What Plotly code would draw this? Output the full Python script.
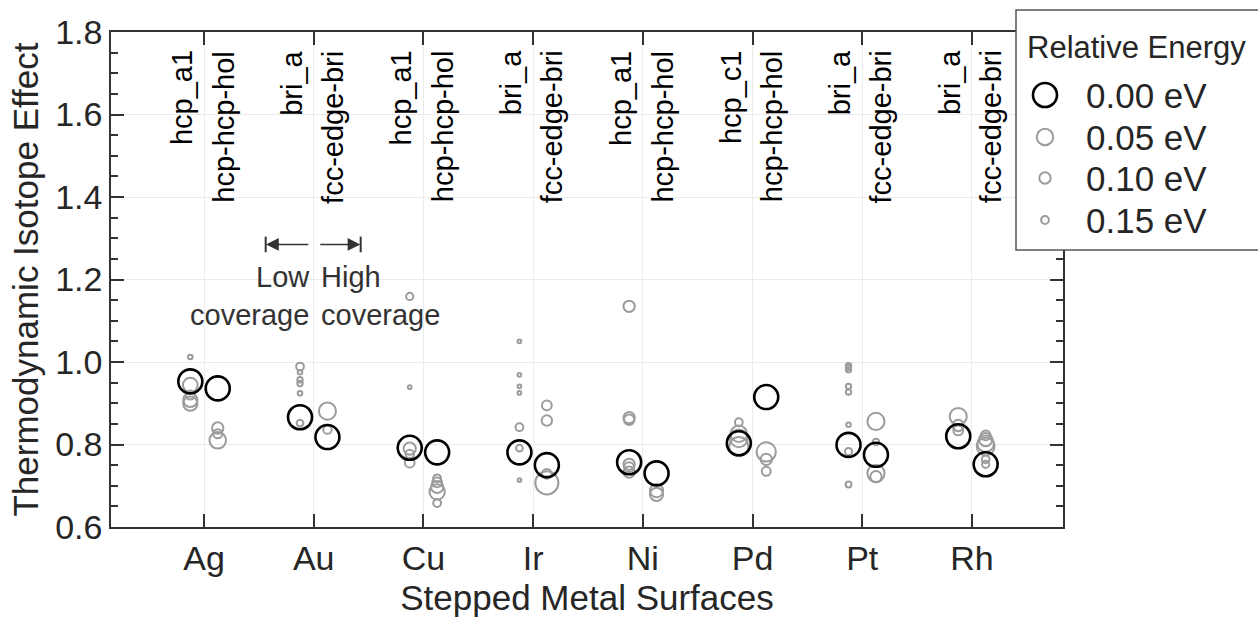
import numpy as np
import plotly.graph_objects as go

# ---------------- data ----------------
metals = ["Ag", "Au", "Cu", "Ir", "Ni", "Pd", "Pt", "Rh"]
low_sites = ["hcp_a1", "bri_a", "hcp_a1", "bri_a", "hcp_a1", "hcp_c1", "bri_a", "bri_a"]
high_sites = ["hcp-hcp-hol", "fcc-edge-bri", "hcp-hcp-hol", "fcc-edge-bri",
              "hcp-hcp-hol", "hcp-hcp-hol", "fcc-edge-bri", "fcc-edge-bri"]

# thermodynamic isotope effect (tie) and relative energy (de, eV) of each configuration
ag_low_tie = [1.012, 0.953, 0.944, 0.920, 0.908, 0.899]
ag_low_de = [0.22, 0.00, 0.065, 0.13, 0.07, 0.07]
ag_high_tie = [0.936, 0.840, 0.826, 0.810]
ag_high_de = [0.00, 0.10, 0.13, 0.05]

au_low_tie = [0.989, 0.975, 0.957, 0.948, 0.924, 0.866, 0.852]
au_low_de = [0.15, 0.22, 0.20, 0.20, 0.22, 0.00, 0.17]
au_high_tie = [0.881, 0.836, 0.818]
au_high_de = [0.045, 0.14, 0.00]

cu_low_tie = [1.159, 0.939, 0.792, 0.790, 0.777, 0.756]
cu_low_de = [0.16, 0.25, 0.00, 0.09, 0.14, 0.12]
cu_high_tie = [0.781, 0.718, 0.708, 0.697, 0.685, 0.658]
cu_high_de = [0.00, 0.15, 0.12, 0.09, 0.06, 0.15]

ir_low_tie = [1.050, 0.969, 0.941, 0.925, 0.842, 0.791, 0.781, 0.714]
ir_low_de = [0.25, 0.25, 0.25, 0.25, 0.15, 0.17, 0.00, 0.25]
ir_high_tie = [0.895, 0.858, 0.750, 0.729, 0.707]
ir_high_de = [0.12, 0.11, 0.00, 0.12, 0.005]

ni_low_tie = [1.135, 0.865, 0.860, 0.757, 0.752, 0.745, 0.733]
ni_low_de = [0.10, 0.10, 0.11, 0.00, 0.10, 0.12, 0.10]
ni_high_tie = [0.730, 0.688, 0.679]
ni_high_de = [0.00, 0.08, 0.08]

pd_low_tie = [0.854, 0.826, 0.815, 0.803, 0.795]
pd_low_de = [0.15, 0.05, 0.04, 0.00, 0.03]
pd_high_tie = [0.915, 0.782, 0.764, 0.735]
pd_high_de = [0.00, 0.03, 0.10, 0.13]

pt_low_tie = [0.991, 0.987, 0.981, 0.941, 0.927, 0.848, 0.799, 0.783, 0.703]
pt_low_de = [0.20, 0.20, 0.20, 0.20, 0.20, 0.22, 0.00, 0.16, 0.19]
pt_high_tie = [0.856, 0.806, 0.775, 0.730, 0.722]
pt_high_de = [0.045, 0.17, 0.00, 0.045, 0.10]

rh_low_tie = [0.868, 0.846, 0.834, 0.820]
rh_low_de = [0.045, 0.10, 0.12, 0.00]
rh_high_tie = [0.822, 0.812, 0.802, 0.795, 0.764, 0.752, 0.752]
rh_high_de = [0.12, 0.08, 0.05, 0.04, 0.15, 0.00, 0.16]

legend_energies = [0.00, 0.05, 0.10, 0.15]
legend_labels = ["0.00 eV", "0.05 eV", "0.10 eV", "0.15 eV"]

low_tie = [ag_low_tie, au_low_tie, cu_low_tie, ir_low_tie, ni_low_tie, pd_low_tie, pt_low_tie, rh_low_tie]
low_de = [ag_low_de, au_low_de, cu_low_de, ir_low_de, ni_low_de, pd_low_de, pt_low_de, rh_low_de]
high_tie = [ag_high_tie, au_high_tie, cu_high_tie, ir_high_tie, ni_high_tie, pd_high_tie, pt_high_tie, rh_high_tie]
high_de = [ag_high_de, au_high_de, cu_high_de, ir_high_de, ni_high_de, pd_high_de, pt_high_de, rh_high_de]

# ---------------- styling helpers ----------------
GRAY = "#9c9c9c"
FONT = "Liberation Sans, Arial, Helvetica, sans-serif"
TXT = "#262626"
OFFSET = 0.125


def size_of(e):
    return 24.0 * np.exp(-7.5 * np.asarray(e, dtype=float))


xs, ys, es = [], [], []
for i, m in enumerate(metals):
    pos = i + 1
    for v, e in zip(low_tie[i], low_de[i]):
        xs.append(pos - OFFSET); ys.append(v); es.append(e)
    for v, e in zip(high_tie[i], high_de[i]):
        xs.append(pos + OFFSET); ys.append(v); es.append(e)
xs = np.array(xs); ys = np.array(ys); es = np.array(es)
gmask = es > 0
bmask = ~gmask

fig = go.Figure()
fig.add_trace(go.Scatter(
    x=xs[gmask], y=ys[gmask], mode="markers", hoverinfo="skip",
    marker=dict(symbol="circle", size=size_of(es[gmask]), color="rgba(0,0,0,0)", opacity=1,
                line=dict(color=GRAY, width=2)),
))
fig.add_trace(go.Scatter(
    x=xs[bmask], y=ys[bmask], mode="markers", hoverinfo="skip",
    marker=dict(symbol="circle", size=size_of(es[bmask]), color="rgba(0,0,0,0)", opacity=1,
                line=dict(color="black", width=2.6)),
))

# ---------------- layout ----------------
L, R, T, B = 111, 195, 32, 95
W, H = 1258, 622
PW, PH = W - L - R, H - T - B


def px(xp):
    return (xp - L) / PW


def py(yp):
    return (H - B - yp) / PH


fig.update_layout(
    width=W, height=H,
    margin=dict(l=L, r=R, t=T, b=B),
    plot_bgcolor="white", paper_bgcolor="white",
    showlegend=False,
    font=dict(family=FONT, color=TXT),
)
fig.update_xaxes(
    range=[0.152, 8.83], tickvals=list(range(1, 9)), ticktext=metals,
    ticks="inside", ticklen=13, tickwidth=1.5, tickcolor="#333333",
    showline=True, linecolor="#333333", linewidth=1.5, mirror="ticks",
    showgrid=True, gridcolor="#ebebeb", gridwidth=1, zeroline=False,
    tickfont=dict(size=34, color=TXT),
    title=dict(text="Stepped Metal Surfaces", font=dict(size=35, color=TXT), standoff=10),
)
fig.update_yaxes(
    range=[0.6, 1.8], dtick=0.2, tickformat=".1f",
    ticks="inside", ticklen=13, tickwidth=1.5, tickcolor="#333333",
    minor=dict(dtick=0.05, ticks="inside", ticklen=7, tickwidth=1.5, tickcolor="#333333", showgrid=False),
    showline=True, linecolor="#333333", linewidth=1.5, mirror="ticks",
    showgrid=True, gridcolor="#ebebeb", gridwidth=1, zeroline=False,
    tickfont=dict(size=34, color=TXT),
    title=dict(text="Thermodynamic Isotope Effect", font=dict(size=35, color=TXT), standoff=6),
)

annotations = []
for i, m in enumerate(metals):
    pos = i + 1
    annotations.append(dict(x=pos - 0.2, y=1.76, xref="x", yref="y", text=low_sites[i],
                            textangle=-90, showarrow=False, xanchor="center", yanchor="top",
                            font=dict(size=29, color="black", family=FONT)))
    annotations.append(dict(x=pos + 0.175, y=1.76, xref="x", yref="y", text=high_sites[i],
                            textangle=-90, showarrow=False, xanchor="center", yanchor="top",
                            font=dict(size=29, color="black", family=FONT)))

# coverage arrows and labels
ARROW_Y = 1.285
annotations.append(dict(x=1.565, y=ARROW_Y, ax=1.964, ay=ARROW_Y, xref="x", yref="y",
                        axref="x", ayref="y", text="", showarrow=True, arrowhead=2,
                        arrowsize=1.7, arrowwidth=1.5, arrowcolor="#333333"))
annotations.append(dict(x=2.425, y=ARROW_Y, ax=2.046, ay=ARROW_Y, xref="x", yref="y",
                        axref="x", ayref="y", text="", showarrow=True, arrowhead=2,
                        arrowsize=1.7, arrowwidth=1.5, arrowcolor="#333333"))
annotations.append(dict(x=1.985, y=1.16, xref="x", yref="y", text="Low<br>coverage",
                        showarrow=False, xanchor="right", yanchor="middle", align="right",
                        font=dict(size=29, color="#333333", family=FONT)))
annotations.append(dict(x=2.045, y=1.16, xref="x", yref="y", text="High<br>coverage",
                        showarrow=False, xanchor="left", yanchor="middle", align="left",
                        font=dict(size=29, color="#333333", family=FONT)))

shapes = [
    dict(type="line", xref="x", yref="y", x0=1.562, x1=1.562, y0=ARROW_Y - 0.019, y1=ARROW_Y + 0.019,
         line=dict(color="#333333", width=2)),
    dict(type="line", xref="x", yref="y", x0=2.428, x1=2.428, y0=ARROW_Y - 0.019, y1=ARROW_Y + 0.019,
         line=dict(color="#333333", width=2)),
]

# legend box (drawn manually to keep true marker sizes)
shapes.append(dict(type="rect", xref="paper", yref="paper", layer="above",
                   x0=px(1016), x1=px(1264), y0=py(250), y1=py(10),
                   fillcolor="white", line=dict(color="#555555", width=1.5)))
annotations.append(dict(x=px(1025), y=py(48), xref="paper", yref="paper", text="Relative Energy",
                        showarrow=False, xanchor="left", yanchor="middle",
                        font=dict(size=31, color=TXT, family=FONT)))
row_y = [95, 137, 178, 220]
for e, lab, ry in zip(legend_energies, legend_labels, row_y):
    r = float(size_of(e)) / 2
    col = "black" if e == 0 else GRAY
    lw = 2.6 if e == 0 else 2
    shapes.append(dict(type="circle", xref="paper", yref="paper", layer="above",
                       xsizemode="pixel", ysizemode="pixel", xanchor=px(1045), yanchor=py(ry),
                       x0=-r, x1=r, y0=-r, y1=r, line=dict(color=col, width=lw),
                       fillcolor="rgba(0,0,0,0)"))
    annotations.append(dict(x=px(1084), y=py(ry), xref="paper", yref="paper", text=lab,
                            showarrow=False, xanchor="left", yanchor="middle",
                            font=dict(size=35, color=TXT, family=FONT)))

fig.update_layout(annotations=annotations, shapes=shapes)
fig.write_html("out.html")
